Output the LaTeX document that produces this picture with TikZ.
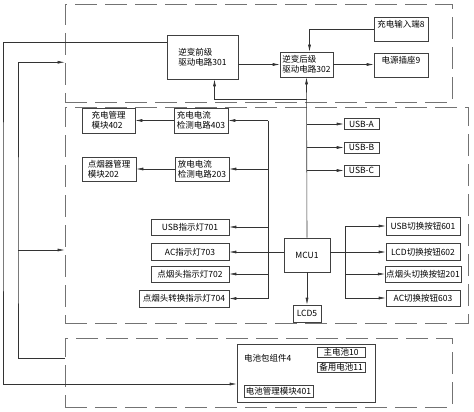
\documentclass[tikz,border=0pt]{standalone}
\usepackage{fontspec}
\setmainfont{Noto Sans CJK SC}
\usepackage{xcolor}
\usepackage{tikz}
\usetikzlibrary{arrows.meta,positioning,calc}

\begin{document}
\begin{tikzpicture}[
x=1pt, y=-1pt,
font=\fontsize{8.5}{10}\selectfont,
every node/.style={inner sep=1pt},
box/.style={draw=black!75, line width=0.6pt, align=left},
frame/.style={draw=black!55, line width=0.8pt, dash pattern=on 22pt off 8pt},
toptext/.style={text depth=11pt},
arr/.style={-{Latex[length=7pt,width=3pt]}, line width=0.6pt, black!80},
ln/.style={line width=0.6pt, black!80}
]
\useasboundingbox (0,0) rectangle (474,412);

% dashed frames
\node[frame, minimum width=387pt, minimum height=97.5pt] (topframe) at (258.5,53.25) {};
\node[frame, minimum width=403pt, minimum height=216pt] (midframe) at (266.5,215) {};
\node[frame, minimum width=387pt, minimum height=69pt] (batframe) at (258.5,372.5) {};

% inverter part
\node[box, minimum width=71pt, minimum height=44pt] (inv1) at (202.5,57) {逆变前级\\驱动电路301};
\node[box, minimum width=53pt, minimum height=25pt] (inv2) at (306.5,64.5) {逆变后级\\驱动电路302};
\node[box, toptext, minimum width=54pt, minimum height=24pt] (chgin) at (401,29) {充电输入端8};
\node[box, toptext, minimum width=54pt, minimum height=24pt] (socket) at (401,65) {电源插座9};

% control part
\node[box, minimum width=53pt, minimum height=25pt] (chgmgmt) at (108.5,120.5) {充电管理\\模块402};
\node[box, minimum width=54pt, minimum height=25pt] (chgdet) at (201,120.5) {充电电流\\检测电路403};
\node[box, minimum width=54pt, minimum height=24pt] (cigmgmt) at (109,169) {点烟器管理\\模块202};
\node[box, minimum width=54pt, minimum height=24pt] (disdet) at (202,169) {放电电流\\检测电路203};

\node[box, minimum width=35pt, minimum height=11pt] (usba) at (361.5,124) {USB-A};
\node[box, minimum width=35pt, minimum height=11pt] (usbb) at (361.5,147.5) {USB-B};
\node[box, minimum width=35pt, minimum height=11pt] (usbc) at (361.5,170.5) {USB-C};

\node[box, minimum width=78pt, minimum height=16pt] (lamp1) at (190,227) {USB指示灯701};
\node[box, minimum width=78pt, minimum height=17pt] (lamp3) at (190,252) {AC指示灯703};
\node[box, minimum width=78pt, minimum height=16pt] (lamp2) at (190,274) {点烟头指示灯702};
\node[box, minimum width=90pt, minimum height=17pt] (lamp4) at (184,298.5) {点烟头转换指示灯704};

\node[box, minimum width=46pt, minimum height=34pt] (mcu) at (307,255) {MCU1};
\node[box, minimum width=28pt, minimum height=17pt] (lcd) at (307,313.5) {LCD5};

\node[box, minimum width=74pt, minimum height=18pt] (btn1) at (423,226) {USB切换按钮601};
\node[box, minimum width=74pt, minimum height=17pt] (btn2) at (423,252) {LCD切换按钮602};
\node[box, minimum width=74pt, minimum height=16pt] (btn3) at (423,274) {点烟头切换按钮201};
\node[box, minimum width=74pt, minimum height=16pt] (btn4) at (423,298) {AC切换按钮603};

% battery part
\node[box, minimum width=138pt, minimum height=58pt] (pack) at (306,373) {};
\node[anchor=west] (packtxt) at (243,358) {电池包组件4};
\node[box, minimum width=48pt, minimum height=10pt] (main) at (341,352) {主电池10};
\node[box, minimum width=48pt, minimum height=10pt] (spare) at (341,367) {备用电池11};
\node[box, minimum width=69pt, minimum height=12pt] (bms) at (278.5,391) {电池管理模块401};

\coordinate (jtop) at (307,99);
\coordinate (bus) at (268,0);
\coordinate (rbus) at (345,0);
\coordinate (lx) at (3,200);
\coordinate (rx) at (18,250);

% inverter connections
\draw[arr] (inv1.east |- inv2.west) -- (inv2.west);
\draw[arr] (inv2.east) -- (socket.west |- inv2.east);
\draw[arr] (chgin.west) -| ([xshift=3pt]inv2.north);
\draw[arr] (mcu.north) -- (inv2.south);
\draw[arr] (jtop) -| ([xshift=12pt]inv1.south);

% usb outputs
\draw[arr] (mcu.north |- usba) -- (usba.west);
\draw[arr] (mcu.north |- usbb) -- (usbb.west);
\draw[arr] (mcu.north |- usbc) -- (usbc.west);

% detection and lamps
\draw[ln] (bus |- chgdet) -- (bus |- lamp4);
\draw[arr] (bus |- chgdet) -- (chgdet.east);
\draw[arr] (bus |- disdet) -- (disdet.east);
\draw[arr] (chgdet.west) -- (chgmgmt.east);
\draw[arr] (disdet.west) -- (cigmgmt.east);
\draw[arr] (bus |- lamp1) -- (lamp1.east);
\draw[arr] (mcu.west |- lamp3) -- (lamp3.east);
\draw[arr] (bus |- lamp2) -- (lamp2.east);
\draw[arr] (bus |- lamp4) -- (lamp4.east);

% buttons
\draw[ln] (rbus |- btn1) -- (rbus |- btn4);
\draw[arr] (mcu.east |- btn2) -- (btn2.west);
\draw[arr] (rbus |- btn1) -- (btn1.west);
\draw[arr] (rbus |- btn3) -- (btn3.west);
\draw[arr] (rbus |- btn4) -- (btn4.west);
\draw[arr] (mcu.south) -- (lcd.north);

% left side lines
\draw[arr] ([yshift=-8pt]inv1.north west) -| (lx) |- ([yshift=-11pt]pack.west);
\draw[arr] ([yshift=14.5pt]batframe.west) -| (rx) |- ([yshift=-9pt]topframe.west);
\draw[arr] (rx) -- (midframe.west |- rx);
\end{tikzpicture}
\end{document}
